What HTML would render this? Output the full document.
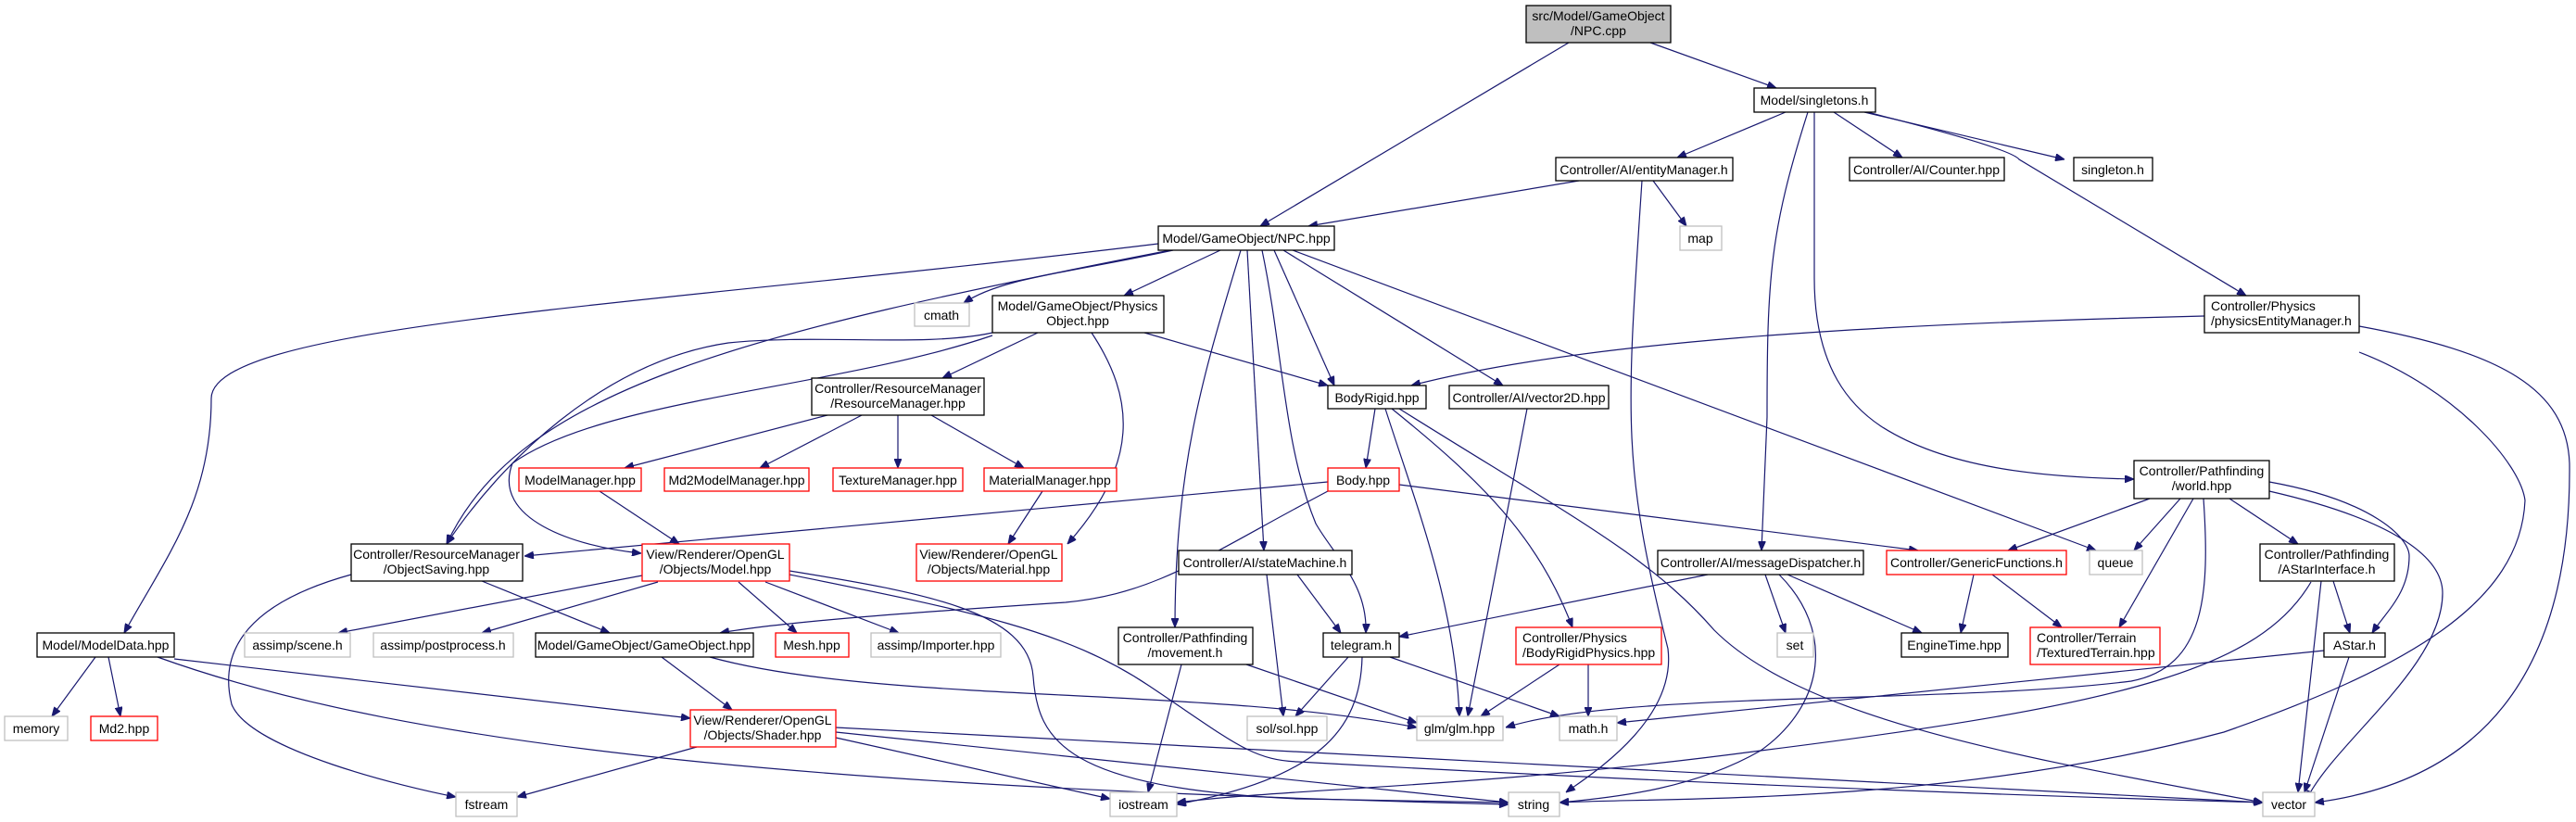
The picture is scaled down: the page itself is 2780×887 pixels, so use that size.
<!DOCTYPE html>
<html><head><meta charset="utf-8"><style>
html,body{margin:0;padding:0;background:#fff;}
svg{display:block;}
text{font-family:"Liberation Sans",Arial,sans-serif;font-size:14px;fill:#000;}
.e{fill:none;stroke:#191970;stroke-width:1.2;marker-end:url(#a);}
.b{fill:#fff;stroke:#000;stroke-width:1.3;}
.g{fill:#fff;stroke:#bfbfbf;stroke-width:1.3;}
.r{fill:#fff;stroke:#ff0000;stroke-width:1.3;}
</style></head><body>
<svg width="2780" height="887" viewBox="0 0 2780 887" xmlns="http://www.w3.org/2000/svg">
<defs><marker id="a" viewBox="0 0 10 8" refX="10" refY="4" markerWidth="10" markerHeight="8" markerUnits="userSpaceOnUse" orient="auto"><path d="M0,0 L10,4 L0,8 z" fill="#191970" stroke="#191970"/></marker></defs>

<!-- edges -->
<path class="e" d="M1693 46 L1360 244"/>
<path class="e" d="M1781 46 L1917 95"/>
<path class="e" d="M1927 121 L1810 170"/>
<path class="e" d="M1979 121 L2053 170"/>
<path class="e" d="M2012 121 L2228 172"/>
<path class="e" d="M2015 121 Q2170 160 2179 172 L2424 319"/>
<path class="e" d="M1951 121 C1910 250 1907 300 1907 450 L1901 594"/>
<path class="e" d="M1958 121 L1958 300 C1958 400 2000 440 2030 460 C2100 505 2200 515 2303 517"/>
<path class="e" d="M1704 195 L1412 244"/>
<path class="e" d="M1784 195 L1820 244"/>
<path class="e" d="M1772 195 C1755 450 1750 500 1800 700 C1810 780 1710 840 1690 855"/>
<path class="e" d="M1250 263 C700 330 228 350 228 430 C228 540 180 600 134 683"/>
<path class="e" d="M1263 270 C800 360 560 420 482 587"/>
<path class="e" d="M1266 270 C1150 295 1080 300 1040 327"/>
<path class="e" d="M1317 270 L1213 319"/>
<path class="e" d="M1339 270 C1300 400 1268 500 1268 677"/>
<path class="e" d="M1346 270 L1364 594"/>
<path class="e" d="M1362 270 C1385 380 1385 480 1420 565 C1440 600 1476 630 1474 683"/>
<path class="e" d="M1375 270 L1440 416"/>
<path class="e" d="M1385 270 L1622 416"/>
<path class="e" d="M1395 270 L2262 594"/>
<path class="e" d="M1120 359 L1017 408"/>
<path class="e" d="M1071 359 C1000 375 880 360 786 370 C650 390 540 500 482 587"/>
<path class="e" d="M1071 362 C900 420 650 430 553 500 C530 560 620 590 692 597"/>
<path class="e" d="M1178 359 C1225 430 1230 500 1152 587"/>
<path class="e" d="M1235 359 L1433 416"/>
<path class="e" d="M2379 341 C2000 350 1700 370 1523 416"/>
<path class="e" d="M2546 380 C2650 420 2720 500 2725 540 C2720 650 2600 720 2400 790 C2100 870 1800 860 1683 866"/>
<path class="e" d="M2546 352 C2700 380 2770 420 2773 500 C2775 700 2700 840 2498 866"/>
<path class="e" d="M893 448 L674 505"/>
<path class="e" d="M930 448 L820 505"/>
<path class="e" d="M969 448 L969 505"/>
<path class="e" d="M1005 448 L1105 505"/>
<path class="e" d="M647 530 L733 587"/>
<path class="e" d="M1125 530 L1088 587"/>
<path class="e" d="M1433 520 L566 600"/>
<path class="e" d="M1433 530 C1300 600 1250 640 1150 650 C1000 660 850 670 777 683"/>
<path class="e" d="M1510 523 L2070 594"/>
<path class="e" d="M1484 441 L1474 505"/>
<path class="e" d="M1495 441 C1530 550 1570 650 1575 773"/>
<path class="e" d="M1502 441 C1600 520 1660 580 1697 677"/>
<path class="e" d="M1510 441 C1700 560 1780 600 1850 680 C1950 780 2200 820 2442 866"/>
<path class="e" d="M1648 441 L1584 773"/>
<path class="e" d="M520 627 L658 683"/>
<path class="e" d="M379 620 C270 650 235 700 250 760 C270 810 440 850 492 860"/>
<path class="e" d="M693 621 L365 683"/>
<path class="e" d="M710 628 L520 683"/>
<path class="e" d="M797 628 L860 683"/>
<path class="e" d="M826 628 L970 683"/>
<path class="e" d="M852 616 C1000 640 1110 660 1115 730 C1120 800 1150 850 1400 862 L1628 866"/>
<path class="e" d="M852 620 C1050 660 1150 680 1240 740 C1330 800 1350 820 1400 822 C1900 850 2300 862 2442 866"/>
<path class="e" d="M714 709 L790 766"/>
<path class="e" d="M766 709 C950 760 1300 740 1529 785"/>
<path class="e" d="M103 709 L56 773"/>
<path class="e" d="M117 709 L130 773"/>
<path class="e" d="M188 711 L745 775"/>
<path class="e" d="M170 709 C450 810 900 850 1628 868"/>
<path class="e" d="M752 806 L558 860"/>
<path class="e" d="M902 796 L1198 862"/>
<path class="e" d="M902 790 L1628 866"/>
<path class="e" d="M902 785 L2442 866"/>
<path class="e" d="M1275 717 L1239 855"/>
<path class="e" d="M1345 717 L1529 780"/>
<path class="e" d="M1400 620 L1447 683"/>
<path class="e" d="M1367 620 L1385 773"/>
<path class="e" d="M1455 709 L1398 773"/>
<path class="e" d="M1470 709 C1468 790 1420 840 1270 868"/>
<path class="e" d="M1500 709 L1683 773"/>
<path class="e" d="M1843 620 L1510 687"/>
<path class="e" d="M1905 620 L1927 683"/>
<path class="e" d="M1929 620 L2074 683"/>
<path class="e" d="M1920 620 C1980 680 1970 760 1900 810 C1830 850 1750 860 1683 866"/>
<path class="e" d="M2130 620 L2116 683"/>
<path class="e" d="M2150 620 L2225 677"/>
<path class="e" d="M1683 717 L1598 773"/>
<path class="e" d="M1714 717 L1714 773"/>
<path class="e" d="M2320 538 L2167 594"/>
<path class="e" d="M2353 538 L2303 594"/>
<path class="e" d="M2367 538 L2287 677"/>
<path class="e" d="M2406 538 L2480 587"/>
<path class="e" d="M2449 520 C2560 540 2600 580 2600 600 C2600 640 2575 660 2560 683"/>
<path class="e" d="M2449 530 C2580 560 2636 600 2636 640 C2636 720 2520 800 2489 863"/>
<path class="e" d="M2378 538 C2385 640 2380 720 2300 735 C2100 760 1750 745 1625 785"/>
<path class="e" d="M2508 702 L1745 780"/>
<path class="e" d="M2518 627 L2536 683"/>
<path class="e" d="M2505 627 L2480 855"/>
<path class="e" d="M2494 628 C2440 720 2300 760 1900 810 C1600 850 1400 850 1270 866"/>
<path class="e" d="M2535 709 L2487 855"/>

<!-- nodes -->
<rect x="1647" y="6" width="156" height="40" fill="#bfbfbf" stroke="#000" stroke-width="1.3"/>
<text x="1725" y="22" text-anchor="middle">src/Model/GameObject</text><text x="1725" y="38" text-anchor="middle">/NPC.cpp</text>

<rect class="b" x="1893" y="95" width="131" height="26"/><text x="1958" y="113" text-anchor="middle">Model/singletons.h</text>
<rect class="b" x="1679" y="170" width="191" height="25"/><text x="1774" y="188" text-anchor="middle">Controller/AI/entityManager.h</text>
<rect class="b" x="1996" y="170" width="167" height="25"/><text x="2079" y="188" text-anchor="middle">Controller/AI/Counter.hpp</text>
<rect class="b" x="2238" y="170" width="85" height="25"/><text x="2280" y="188" text-anchor="middle">singleton.h</text>
<rect class="b" x="1250" y="244" width="190" height="26"/><text x="1345" y="262" text-anchor="middle">Model/GameObject/NPC.hpp</text>
<rect class="g" x="1813" y="244" width="45" height="26"/><text x="1835" y="262" text-anchor="middle">map</text>
<rect class="g" x="987" y="327" width="59" height="25"/><text x="1016" y="345" text-anchor="middle">cmath</text>
<rect class="b" x="1071" y="319" width="185" height="40"/><text x="1163" y="335" text-anchor="middle">Model/GameObject/Physics</text><text x="1163" y="351" text-anchor="middle">Object.hpp</text>
<rect class="b" x="2379" y="319" width="167" height="40"/><text x="2386" y="335">Controller/Physics</text><text x="2386" y="351">/physicsEntityManager.h</text>
<rect class="b" x="876" y="408" width="186" height="40"/><text x="969" y="424" text-anchor="middle">Controller/ResourceManager</text><text x="969" y="440" text-anchor="middle">/ResourceManager.hpp</text>
<rect class="b" x="1433" y="416" width="106" height="25"/><text x="1486" y="434" text-anchor="middle">BodyRigid.hpp</text>
<rect class="b" x="1564" y="416" width="172" height="25"/><text x="1650" y="434" text-anchor="middle">Controller/AI/vector2D.hpp</text>
<rect class="r" x="560" y="505" width="132" height="25"/><text x="626" y="523" text-anchor="middle">ModelManager.hpp</text>
<rect class="r" x="717" y="505" width="156" height="25"/><text x="795" y="523" text-anchor="middle">Md2ModelManager.hpp</text>
<rect class="r" x="899" y="505" width="140" height="25"/><text x="969" y="523" text-anchor="middle">TextureManager.hpp</text>
<rect class="r" x="1062" y="505" width="143" height="25"/><text x="1133" y="523" text-anchor="middle">MaterialManager.hpp</text>
<rect class="r" x="1433" y="505" width="77" height="25"/><text x="1471" y="523" text-anchor="middle">Body.hpp</text>
<rect class="b" x="2303" y="497" width="146" height="41"/><text x="2376" y="513" text-anchor="middle">Controller/Pathfinding</text><text x="2376" y="529" text-anchor="middle">/world.hpp</text>
<rect class="b" x="379" y="587" width="185" height="40"/><text x="471" y="603" text-anchor="middle">Controller/ResourceManager</text><text x="471" y="619" text-anchor="middle">/ObjectSaving.hpp</text>
<rect class="r" x="693" y="587" width="159" height="40"/><text x="772" y="603" text-anchor="middle">View/Renderer/OpenGL</text><text x="772" y="619" text-anchor="middle">/Objects/Model.hpp</text>
<rect class="r" x="989" y="587" width="157" height="40"/><text x="1067" y="603" text-anchor="middle">View/Renderer/OpenGL</text><text x="1067" y="619" text-anchor="middle">/Objects/Material.hpp</text>
<rect class="b" x="1272" y="594" width="187" height="26"/><text x="1365" y="612" text-anchor="middle">Controller/AI/stateMachine.h</text>
<rect class="b" x="1789" y="594" width="222" height="26"/><text x="1900" y="612" text-anchor="middle">Controller/AI/messageDispatcher.h</text>
<rect class="r" x="2036" y="594" width="194" height="26"/><text x="2133" y="612" text-anchor="middle">Controller/GenericFunctions.h</text>
<rect class="g" x="2255" y="594" width="57" height="26"/><text x="2283" y="612" text-anchor="middle">queue</text>
<rect class="b" x="2439" y="587" width="145" height="40"/><text x="2511" y="603" text-anchor="middle">Controller/Pathfinding</text><text x="2511" y="619" text-anchor="middle">/AStarInterface.h</text>
<rect class="b" x="40" y="683" width="148" height="26"/><text x="114" y="701" text-anchor="middle">Model/ModelData.hpp</text>
<rect class="g" x="264" y="683" width="114" height="26"/><text x="321" y="701" text-anchor="middle">assimp/scene.h</text>
<rect class="g" x="403" y="683" width="151" height="26"/><text x="478" y="701" text-anchor="middle">assimp/postprocess.h</text>
<rect class="b" x="578" y="683" width="235" height="26"/><text x="695" y="701" text-anchor="middle">Model/GameObject/GameObject.hpp</text>
<rect class="r" x="837" y="683" width="79" height="26"/><text x="876" y="701" text-anchor="middle">Mesh.hpp</text>
<rect class="g" x="940" y="683" width="140" height="26"/><text x="1010" y="701" text-anchor="middle">assimp/Importer.hpp</text>
<rect class="b" x="1207" y="677" width="145" height="40"/><text x="1279" y="693" text-anchor="middle">Controller/Pathfinding</text><text x="1279" y="709" text-anchor="middle">/movement.h</text>
<rect class="b" x="1428" y="683" width="82" height="26"/><text x="1469" y="701" text-anchor="middle">telegram.h</text>
<rect class="r" x="1636" y="677" width="157" height="40"/><text x="1643" y="693">Controller/Physics</text><text x="1643" y="709">/BodyRigidPhysics.hpp</text>
<rect class="g" x="1918" y="683" width="39" height="26"/><text x="1937" y="701" text-anchor="middle">set</text>
<rect class="b" x="2052" y="683" width="115" height="26"/><text x="2109" y="701" text-anchor="middle">EngineTime.hpp</text>
<rect class="r" x="2191" y="677" width="140" height="40"/><text x="2198" y="693">Controller/Terrain</text><text x="2198" y="709">/TexturedTerrain.hpp</text>
<rect class="b" x="2508" y="683" width="66" height="26"/><text x="2541" y="701" text-anchor="middle">AStar.h</text>
<rect class="g" x="5" y="773" width="68" height="26"/><text x="39" y="791" text-anchor="middle">memory</text>
<rect class="r" x="98" y="773" width="72" height="26"/><text x="134" y="791" text-anchor="middle">Md2.hpp</text>
<rect class="r" x="745" y="766" width="157" height="40"/><text x="823" y="782" text-anchor="middle">View/Renderer/OpenGL</text><text x="823" y="798" text-anchor="middle">/Objects/Shader.hpp</text>
<rect class="g" x="1346" y="773" width="86" height="26"/><text x="1389" y="791" text-anchor="middle">sol/sol.hpp</text>
<rect class="g" x="1529" y="773" width="93" height="26"/><text x="1575" y="791" text-anchor="middle">glm/glm.hpp</text>
<rect class="g" x="1683" y="773" width="62" height="26"/><text x="1714" y="791" text-anchor="middle">math.h</text>
<rect class="g" x="492" y="855" width="66" height="26"/><text x="525" y="873" text-anchor="middle">fstream</text>
<rect class="g" x="1198" y="855" width="72" height="26"/><text x="1234" y="873" text-anchor="middle">iostream</text>
<rect class="g" x="1628" y="855" width="55" height="26"/><text x="1655" y="873" text-anchor="middle">string</text>
<rect class="g" x="2442" y="855" width="56" height="26"/><text x="2470" y="873" text-anchor="middle">vector</text>
</svg>
</body></html>
